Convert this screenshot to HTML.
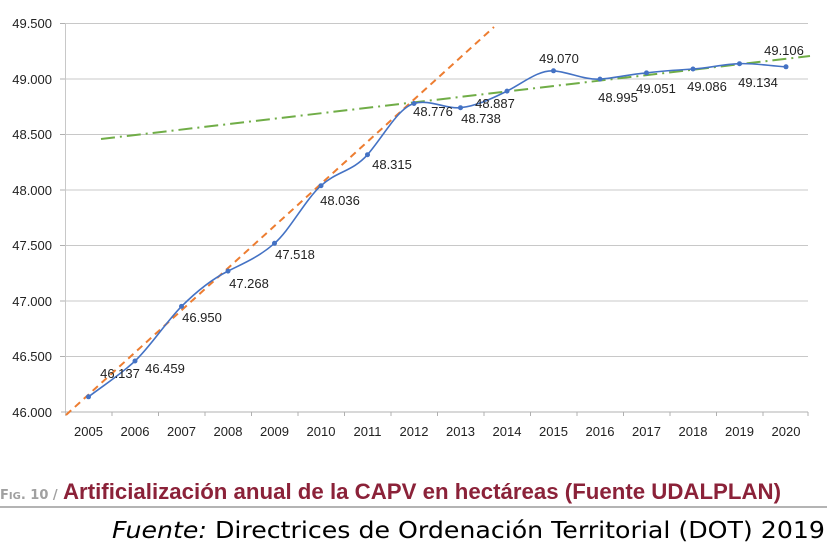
<!DOCTYPE html>
<html><head><meta charset="utf-8"><style>
html,body{margin:0;padding:0;background:#fff;}
svg{display:block;font-family:"Liberation Sans",sans-serif;}
</style></head><body>
<svg width="827" height="552" viewBox="0 0 827 552">
<g stroke="#c8c8c8" stroke-width="1">
<line x1="65" y1="23.5" x2="808" y2="23.5"/>
<line x1="65" y1="79" x2="808" y2="79"/>
<line x1="65" y1="134.5" x2="808" y2="134.5"/>
<line x1="65" y1="190" x2="808" y2="190"/>
<line x1="65" y1="245.5" x2="808" y2="245.5"/>
<line x1="65" y1="301" x2="808" y2="301"/>
<line x1="65" y1="356.5" x2="808" y2="356.5"/>
<line x1="65.5" y1="23" x2="65.5" y2="416"/>
</g>
<line x1="61" y1="412" x2="808" y2="412" stroke="#b0b0b0"/>
<g stroke="#b0b0b0">
<line x1="60" y1="23.5" x2="65" y2="23.5"/><line x1="60" y1="79" x2="65" y2="79"/><line x1="60" y1="134.5" x2="65" y2="134.5"/><line x1="60" y1="190" x2="65" y2="190"/><line x1="60" y1="245.5" x2="65" y2="245.5"/><line x1="60" y1="301" x2="65" y2="301"/><line x1="60" y1="356.5" x2="65" y2="356.5"/>
<line x1="112" y1="412" x2="112" y2="416"/><line x1="158.5" y1="412" x2="158.5" y2="416"/><line x1="205" y1="412" x2="205" y2="416"/><line x1="251.5" y1="412" x2="251.5" y2="416"/><line x1="298" y1="412" x2="298" y2="416"/><line x1="344.5" y1="412" x2="344.5" y2="416"/><line x1="391" y1="412" x2="391" y2="416"/><line x1="437.5" y1="412" x2="437.5" y2="416"/><line x1="484" y1="412" x2="484" y2="416"/><line x1="530.5" y1="412" x2="530.5" y2="416"/><line x1="577" y1="412" x2="577" y2="416"/><line x1="623.5" y1="412" x2="623.5" y2="416"/><line x1="670" y1="412" x2="670" y2="416"/><line x1="716.5" y1="412" x2="716.5" y2="416"/><line x1="763" y1="412" x2="763" y2="416"/><line x1="808" y1="412" x2="808" y2="416"/>
</g>
<g font-size="13" fill="#222" text-anchor="end">
<text x="52" y="28">49.500</text><text x="52" y="84">49.000</text><text x="52" y="139">48.500</text><text x="52" y="195">48.000</text><text x="52" y="250">47.500</text><text x="52" y="306">47.000</text><text x="52" y="361">46.500</text><text x="52" y="417">46.000</text>
</g>
<g font-size="13" fill="#222" text-anchor="middle">
<text x="88.5" y="436">2005</text><text x="135" y="436">2006</text><text x="181.5" y="436">2007</text><text x="228" y="436">2008</text><text x="274.5" y="436">2009</text><text x="321" y="436">2010</text><text x="367.5" y="436">2011</text><text x="414" y="436">2012</text><text x="460.5" y="436">2013</text><text x="507" y="436">2014</text><text x="553.5" y="436">2015</text><text x="600" y="436">2016</text><text x="646.5" y="436">2017</text><text x="693" y="436">2018</text><text x="739.5" y="436">2019</text><text x="786" y="436">2020</text>
</g>
<line x1="66" y1="415" x2="494" y2="27" stroke="#ed7d31" stroke-width="2" stroke-dasharray="7,5"/>
<line x1="101" y1="139" x2="810" y2="56" stroke="#70ad47" stroke-width="2" stroke-dasharray="14,5,2,5"/>
<path d="M88.5,396.8 C104,385 120,375 135,361 C150,347 166,322 181.5,306.4 C197,291 212,279 228,271.1 C244,263 259,257 274.5,243.3 C290,230 305,200 321,185.7 C337,171 352,172 367.5,154.7 C383,137 398,108 414,103.5 C430,99 445,109 460.5,107.7 C476,106 491,99 507,91.1 C523,83 538,70 553.5,70.8 C569,72 584,80 600,79.1 C616,78 631,74 646.5,72.9 C662,71 677,70 693,69 C709,68 724,64 739.5,63.7 C755,63 770,66 786,66.8" fill="none" stroke="#4472c4" stroke-width="1.6"/>
<g fill="#4472c4">
<circle cx="88.5" cy="396.8" r="2.5"/><circle cx="135" cy="361" r="2.5"/><circle cx="181.5" cy="306.4" r="2.5"/><circle cx="228" cy="271.1" r="2.5"/><circle cx="274.5" cy="243.3" r="2.5"/><circle cx="321" cy="185.7" r="2.5"/><circle cx="367.5" cy="154.7" r="2.5"/><circle cx="414" cy="103.5" r="2.5"/><circle cx="460.5" cy="107.7" r="2.5"/><circle cx="507" cy="91.1" r="2.5"/><circle cx="553.5" cy="70.8" r="2.5"/><circle cx="600" cy="79.1" r="2.5"/><circle cx="646.5" cy="72.9" r="2.5"/><circle cx="693" cy="69" r="2.5"/><circle cx="739.5" cy="63.7" r="2.5"/><circle cx="786" cy="66.8" r="2.5"/>
</g>
<g font-size="13" fill="#222" text-anchor="middle">
<text x="120" y="378">46.137</text><text x="165" y="373">46.459</text><text x="202" y="322">46.950</text><text x="249" y="288">47.268</text><text x="295" y="259">47.518</text><text x="340" y="205">48.036</text><text x="392" y="169">48.315</text><text x="433" y="116">48.776</text><text x="481" y="123">48.738</text><text x="495" y="108">48.887</text><text x="559" y="63">49.070</text><text x="618" y="102">48.995</text><text x="656" y="93">49.051</text><text x="707" y="91">49.086</text><text x="758" y="87">49.134</text><text x="784" y="55">49.106</text>
</g>
<text x="0" y="499" font-size="13" fill="#a0a0a0" font-weight="bold" font-family="'DejaVu Sans',sans-serif">F<tspan font-size="10">IG</tspan>. 10 /</text>
<text x="63" y="499" font-size="22" font-weight="bold" fill="#8b2239" textLength="718" lengthAdjust="spacingAndGlyphs">Artificialización anual de la CAPV en hectáreas (Fuente UDALPLAN)</text>
<line x1="0" y1="507" x2="827" y2="507" stroke="#b4b4b4" stroke-width="2"/>
<text x="112" y="538" font-size="23" fill="#000" font-family="'DejaVu Sans',sans-serif" textLength="713" lengthAdjust="spacingAndGlyphs"><tspan font-style="italic">Fuente:</tspan> Directrices de Ordenación Territorial (DOT) 2019</text>
</svg>
</body></html>
